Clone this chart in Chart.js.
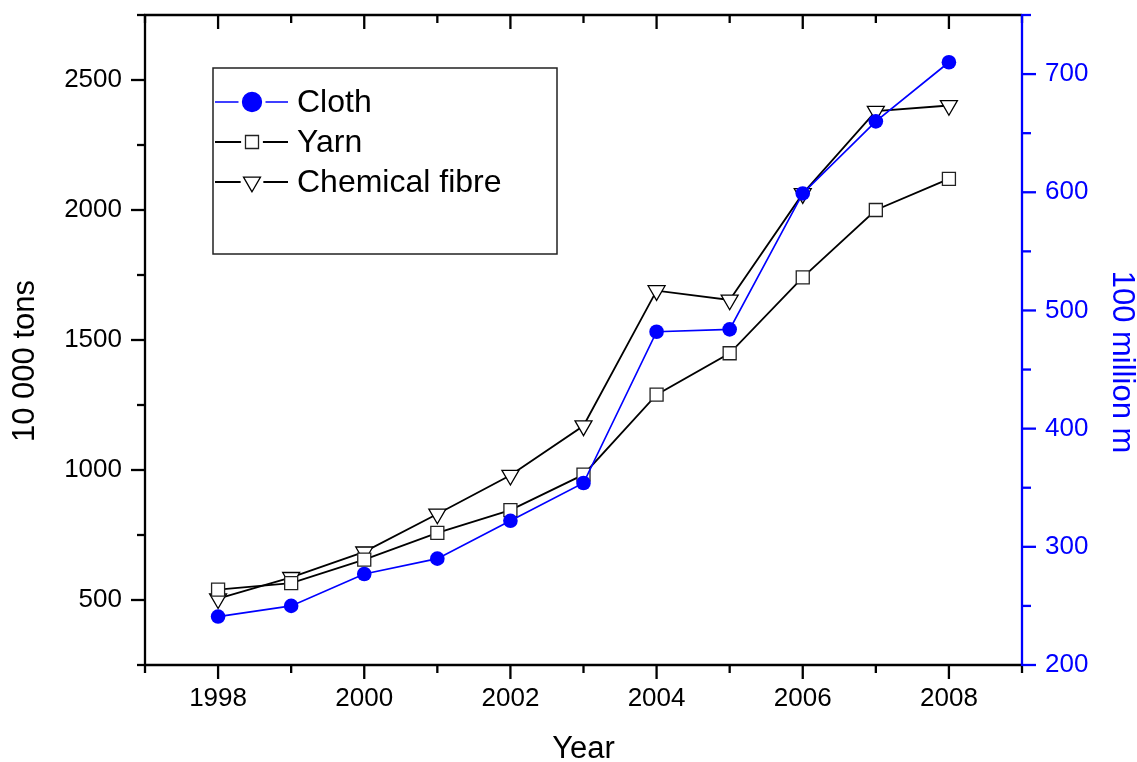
<!DOCTYPE html>
<html>
<head>
<meta charset="utf-8">
<title>Cloth, yarn and chemical fibre, 1998-2008</title>
<script src="https://cdn.jsdelivr.net/npm/chart.js@4.4.1/dist/chart.umd.min.js"></script>
<style>
  html, body { margin: 0; padding: 0; background: #fff; }
  #wrap { width: 1137px; height: 762px; }
</style>
</head>
<body>
<div id="wrap"><canvas id="chart" width="1137" height="762"></canvas></div>
<script>
// values
const years = [1998, 1999, 2000, 2001, 2002, 2003, 2004, 2005, 2006, 2007, 2008];
const cloth = [241, 250, 277, 290, 322, 354, 482, 484, 599, 660, 710];          // 100 million m (right axis)
const yarn = [540, 565, 655, 758, 846, 982, 1290, 1449, 1741, 2000, 2120];      // 10 000 tons
const chemicalFibre = [505, 587, 685, 831, 980, 1170, 1690, 1654, 2063, 2380, 2402]; // 10 000 tons

const yearTicks = [1998, 2000, 2002, 2004, 2006, 2008];
const yearMinorTicks = [1997, 1999, 2001, 2003, 2005, 2007, 2009];
const tonTicks = [500, 1000, 1500, 2000, 2500];
const tonMinorTicks = [250, 750, 1250, 1750, 2250, 2750];
const meterTicks = [200, 300, 400, 500, 600, 700];
const meterMinorTicks = [250, 350, 450, 550, 650, 750];

const BLUE = '#0000ff';
const FONT = '"Liberation Sans", Arial, sans-serif';

Chart.defaults.font.family = FONT;
Chart.defaults.color = '#000';

const toPoints = (vals) => years.map((yr, i) => ({ x: yr, y: vals[i] }));

function drawMarker(ctx, style, x, y, r, fill, stroke) {
    ctx.beginPath();
    if (style === 'circle') {
        ctx.arc(x, y, r, 0, Math.PI * 2);
    } else if (style === 'rect') {
        const s = Math.SQRT1_2 * r;
        ctx.rect(x - s, y - s, 2 * s, 2 * s);
    } else if (style === 'triangle') {
        // pointing down, like pointRotation 180
        for (let k = 0; k < 3; k++) {
            const ang = Math.PI + k * 2 * Math.PI / 3;
            const px = x + Math.sin(ang) * r;
            const py = y - Math.cos(ang) * r;
            if (k === 0) ctx.moveTo(px, py); else ctx.lineTo(px, py);
        }
        ctx.closePath();
    }
    ctx.fillStyle = fill;
    ctx.fill();
    ctx.lineWidth = 1.3;
    ctx.strokeStyle = stroke;
    ctx.stroke();
}

// axis frame, ticks and y titles (Origin style: major + minor ticks)
const axesFrame = {
    id: 'axesFrame',
    afterDatasetsDraw(chart) {
        const { ctx, chartArea: a, scales } = chart;
        const sx = scales.x, sl = scales.y, sr = scales.y1;
        const seg = (x1, y1, x2, y2) => {
            ctx.beginPath(); ctx.moveTo(x1, y1); ctx.lineTo(x2, y2); ctx.stroke();
        };
        ctx.save();
        ctx.lineWidth = 2.3;
        ctx.strokeStyle = '#000';

        seg(a.left - 1, a.top, a.right, a.top);
        seg(a.left - 1, a.bottom, a.right, a.bottom);
        seg(a.left, a.top - 1.1, a.left, a.bottom + 1.1);

        // bottom ticks out, top ticks in
        yearTicks.forEach(v => {
            const px = sx.getPixelForValue(v);
            seg(px, a.bottom, px, a.bottom + 14);
            seg(px, a.top, px, a.top + 14);
        });
        yearMinorTicks.forEach(v => {
            const px = sx.getPixelForValue(v);
            seg(px, a.bottom, px, a.bottom + 8);
            seg(px, a.top, px, a.top + 8);
        });
        // left ticks
        tonTicks.forEach(v => {
            const py = sl.getPixelForValue(v);
            seg(a.left, py, a.left - 14, py);
        });
        tonMinorTicks.forEach(v => {
            const py = sl.getPixelForValue(v);
            seg(a.left, py, a.left - 8, py);
        });

        // right axis in blue
        ctx.strokeStyle = BLUE;
        seg(a.right, a.top - 1.1, a.right, a.bottom + 1.1);
        meterTicks.forEach(v => {
            const py = sr.getPixelForValue(v);
            seg(a.right, py, a.right + 14, py);
        });
        meterMinorTicks.forEach(v => {
            const py = sr.getPixelForValue(v);
            seg(a.right, py, a.right + 9, py);
        });

        // axis titles
        ctx.font = '31px ' + FONT;
        ctx.textAlign = 'center';
        ctx.textBaseline = 'middle';
        ctx.fillStyle = '#000';
        ctx.save();
        ctx.translate(25, 361);
        ctx.rotate(-Math.PI / 2);
        ctx.fillText('10 000 tons', 0, 0);
        ctx.restore();
        ctx.save();
        ctx.fillStyle = BLUE;
        ctx.translate(1122, 362);
        ctx.rotate(Math.PI / 2);
        ctx.fillText('100 million m', 0, 0);
        ctx.restore();
        ctx.restore();
    }
};

// boxed legend inside the plot
const boxLegend = {
    id: 'boxLegend',
    afterDraw(chart) {
        const { ctx } = chart;
        const box = { left: 213, top: 68, width: 344, height: 186 };
        ctx.save();
        ctx.lineWidth = 1.5;
        ctx.strokeStyle = '#222';
        ctx.strokeRect(box.left, box.top, box.width, box.height);

        ctx.font = '32px ' + FONT;
        ctx.textBaseline = 'middle';
        ctx.textAlign = 'left';
        chart.data.datasets.forEach((ds, i) => {
            const cy = 102 + i * 40;
            const mx = 252;
            const r = ds.pointStyle === 'circle' ? 9.5 : ds.pointRadius;
            const gap = (ds.pointStyle === 'circle' ? r : r * 0.75) + 4;
            ctx.strokeStyle = ds.borderColor;
            ctx.lineWidth = ds.borderWidth;
            ctx.beginPath();
            ctx.moveTo(box.left + 2, cy); ctx.lineTo(mx - gap, cy);
            ctx.moveTo(mx + gap, cy); ctx.lineTo(288, cy);
            ctx.stroke();
            drawMarker(ctx, ds.pointStyle, mx, cy, r, ds.pointBackgroundColor, ds.pointBorderColor);
            ctx.fillStyle = '#000';
            ctx.fillText(ds.label, 297, cy + 1);
        });
        ctx.restore();
    }
};

const fixVertical = (width) => (s) => {
    s.width = width;
    s.paddingTop = 0;
    s.paddingBottom = 0;
};

new Chart(document.getElementById('chart'), {
    type: 'line',
    data: {
        datasets: [
            {
                label: 'Cloth',
                data: toPoints(cloth),
                yAxisID: 'y1',
                borderColor: BLUE,
                borderWidth: 1.7,
                pointStyle: 'circle',
                pointRadius: 7.3,
                pointBackgroundColor: BLUE,
                pointBorderColor: BLUE,
                pointBorderWidth: 0
            },
            {
                label: 'Yarn',
                data: toPoints(yarn),
                yAxisID: 'y',
                borderColor: '#000',
                borderWidth: 1.8,
                pointStyle: 'rect',
                pointRadius: 9.2,
                pointBackgroundColor: '#fff',
                pointBorderColor: '#222',
                pointBorderWidth: 1.3
            },
            {
                label: 'Chemical fibre',
                data: toPoints(chemicalFibre),
                yAxisID: 'y',
                borderColor: '#000',
                borderWidth: 1.8,
                pointStyle: 'triangle',
                pointRotation: 180,
                pointRadius: 9.8,
                pointBackgroundColor: '#fff',
                pointBorderColor: '#000',
                pointBorderWidth: 1.3
            }
        ]
    },
    options: {
        responsive: false,
        animation: false,
        layout: { padding: { top: 15, left: 0, right: 0, bottom: 0 } },
        plugins: {
            legend: { display: false },
            tooltip: { enabled: false }
        },
        scales: {
            x: {
                type: 'linear',
                position: 'bottom',
                min: 1997,
                max: 2009,
                afterBuildTicks: (s) => { s.ticks = yearTicks.map(v => ({ value: v })); },
                afterFit: (s) => { s.height = 97; s.paddingLeft = 0; s.paddingRight = 0; },
                grid: { display: false, drawTicks: false },
                border: { display: false },
                ticks: {
                    padding: 18,
                    font: { size: 26 },
                    color: '#000',
                    maxRotation: 0,
                    callback: (v) => String(v)
                },
                title: {
                    display: true,
                    text: 'Year',
                    color: '#000',
                    font: { size: 31, lineHeight: 0.8 },
                    padding: { top: 0, bottom: 0 }
                }
            },
            y: {
                type: 'linear',
                position: 'left',
                min: 250,
                max: 2750,
                afterBuildTicks: (s) => { s.ticks = tonTicks.map(v => ({ value: v })); },
                afterFit: fixVertical(145),
                grid: { display: false, drawTicks: false },
                border: { display: false },
                ticks: { padding: 23, font: { size: 26 }, color: '#000', callback: (v) => String(v) }
            },
            y1: {
                type: 'linear',
                position: 'right',
                min: 200,
                max: 750,
                afterBuildTicks: (s) => { s.ticks = meterTicks.map(v => ({ value: v })); },
                afterFit: fixVertical(115),
                grid: { display: false, drawTicks: false },
                border: { display: false },
                ticks: { padding: 23, font: { size: 26 }, color: BLUE, callback: (v) => String(v) }
            }
        }
    },
    plugins: [axesFrame, boxLegend]
});
</script>
</body>
</html>
